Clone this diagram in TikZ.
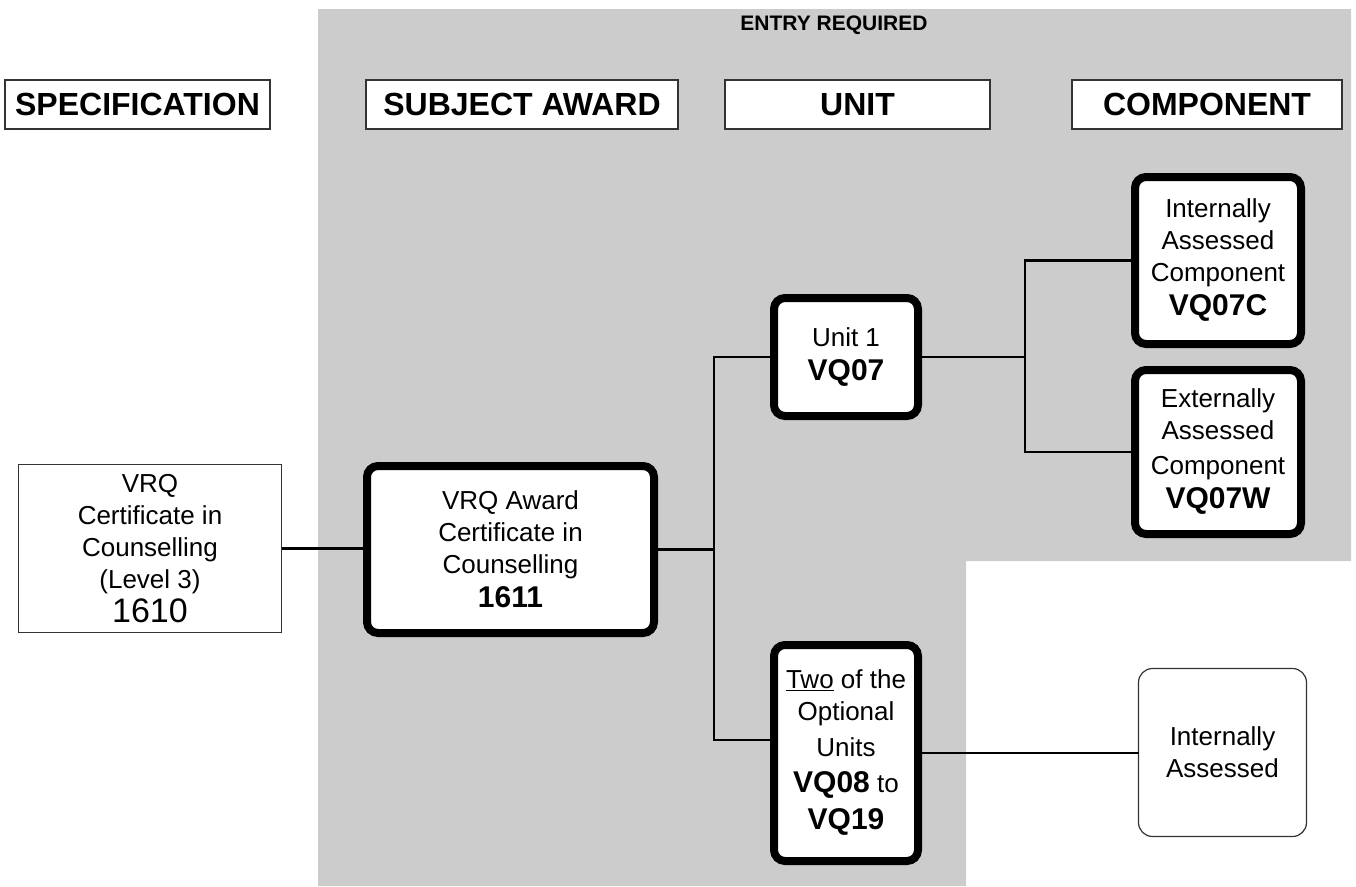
\documentclass[tikz,border=0pt]{standalone}
\usepackage{fontspec}
\setmainfont{Liberation Sans}
\definecolor{zone}{HTML}{CCCCCC}
\definecolor{rim}{HTML}{333333}
\newcommand\bodyfont{\fontsize{26}{32}\selectfont}
\newcommand\codefont{\fontsize{30}{36}\selectfont\bfseries}
\begin{document}
\begin{tikzpicture}[x=1pt,y=-1pt,
  every node/.style={inner sep=0pt, outer sep=0pt},
  hdr/.style={draw=rim, line width=1.2pt, fill=white,
    font=\fontsize{32}{38}\selectfont\bfseries, minimum height=49pt},
  heavybox/.style={draw=black, line width=8pt, rounded corners=11pt,
    fill=white, align=center, font=\bodyfont},
  lightbox/.style={draw=rim, line width=1.2pt, fill=white,
    align=center, font=\bodyfont},
  link/.style={line width=2.6pt}]
\useasboundingbox (0,0) rectangle (1356,886);

% shaded area of entries that are required
\fill[zone] (318,9) -- (1351,9) -- (1351,561) -- (966,561)
  -- (966,886) -- (318,886) -- cycle;
\node[font=\fontsize{21}{25}\selectfont\bfseries] (entry) at (834,25) {ENTRY REQUIRED};

% column headings
\node[hdr, minimum width=265pt] (hSpec)  at (137.5,104.5) {SPECIFICATION};
\node[hdr, minimum width=312pt] (hAward) at (522,104.5)   {SUBJECT AWARD};
\node[hdr, minimum width=265pt] (hUnit)  at (857.5,104.5) {UNIT};
\node[hdr, minimum width=270pt] (hComp)  at (1207,104.5)  {COMPONENT};

% specification
\node[lightbox, minimum width=263pt, minimum height=168pt] (spec) at (150,548.5)
  {VRQ\\Certificate in\\Counselling\\(Level 3)\\[2pt]{\fontsize{34}{40}\selectfont 1610}};

% subject award
\node[heavybox, minimum width=287pt, minimum height=167pt] (award) at (510.5,549.5)
  {VRQ Award\\Certificate in\\Counselling\\[2pt]{\codefont 1611}};

% units
\node[heavybox, minimum width=144pt, minimum height=118pt] (unit) at (846,357)
  {Unit 1\\[2pt]{\codefont VQ07}};
\node[heavybox, minimum width=144pt, minimum height=216pt] (two) at (846,753)
  {\underline{Two} of the\\Optional\\[4pt]Units\\[4pt]{\codefont VQ08} to\\[5pt]{\codefont VQ19}};

% components
\node[heavybox, minimum width=166pt, minimum height=167pt] (compC) at (1218,260.5)
  {Internally\\Assessed\\Component\\[2pt]{\codefont VQ07C}};
\node[heavybox, minimum width=166pt, minimum height=164pt] (compW) at (1218,452)
  {Externally\\Assessed\\[3pt]Component\\[2pt]{\codefont VQ07W}};
\node[lightbox, rounded corners=14pt, minimum width=168pt, minimum height=168pt] (intA)
  at (1222.5,752.5) {Internally\\Assessed};

% connectors
\coordinate (jA) at (714,548);
\coordinate (jB) at (1025,357);
\path (two.west) ++(0,-13) coordinate (twoIn);
\draw[link] (spec.east) -- (spec.east -| award.west);
\draw[link] (award.east) -- (award.east -| jA);
\draw[link] (unit.west) -| (jA |- twoIn) -- (twoIn);
\draw[link] (unit.east) -- (jB);
\draw[link] (compC.west) -| (jB |- compW.west) -- (compW.west);
\draw[link] (two.east) -- (two.east -| intA.west);
\end{tikzpicture}
\end{document}
